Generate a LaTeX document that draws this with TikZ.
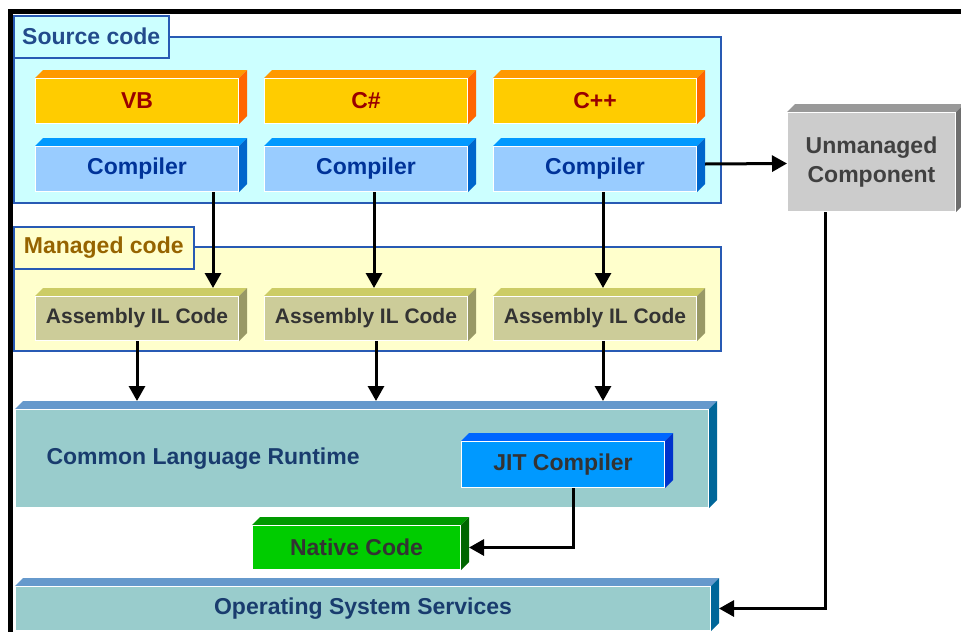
\documentclass[tikz,border=0pt]{standalone}
\usepackage{fontspec}
\setmainfont{Liberation Sans}
\usetikzlibrary{positioning, arrows.meta}
\definecolor{panelcol}{RGB}{40,90,180}
\definecolor{srcfill}{RGB}{204,255,255}
\definecolor{srctext}{RGB}{35,75,140}
\definecolor{mgdfill}{RGB}{255,255,204}
\definecolor{mgdtext}{RGB}{150,100,0}
\definecolor{langfill}{RGB}{255,204,0}
\definecolor{langtop}{RGB}{255,153,0}
\definecolor{langside}{RGB}{255,102,0}
\definecolor{langtext}{RGB}{153,0,0}
\definecolor{compfill}{RGB}{153,204,255}
\definecolor{comptop}{RGB}{0,153,255}
\definecolor{compside}{RGB}{0,102,204}
\definecolor{comptext}{RGB}{0,51,153}
\definecolor{unmfill}{RGB}{204,204,204}
\definecolor{unmtop}{RGB}{153,153,153}
\definecolor{unmside}{RGB}{110,110,110}
\definecolor{asmfill}{RGB}{204,204,153}
\definecolor{asmtop}{RGB}{204,204,102}
\definecolor{asmside}{RGB}{153,153,102}
\definecolor{clrfill}{RGB}{153,204,204}
\definecolor{clrtop}{RGB}{102,153,204}
\definecolor{clrside}{RGB}{0,102,153}
\definecolor{clrtext}{RGB}{25,60,110}
\definecolor{jitfill}{RGB}{0,153,255}
\definecolor{jittop}{RGB}{0,102,255}
\definecolor{jitside}{RGB}{0,51,204}
\definecolor{natfill}{RGB}{0,204,0}
\definecolor{nattop}{RGB}{0,153,0}
\definecolor{natside}{RGB}{0,102,0}
\definecolor{darktext}{RGB}{51,51,51}
\definecolor{unmtext}{RGB}{64,64,64}

\begin{document}
\begin{tikzpicture}[
			x=1pt, y=1pt,
			font=\fontsize{23}{26}\selectfont\bfseries,
			panel/.style={
				draw=panelcol,
				line width=1.5pt,
				anchor=north west,
				inner sep=0pt
			},
			tab/.style={
				panel,
				minimum height=42pt
			},
			box3d/.style 2 args={
				draw=white,
				line width=1pt,
				anchor=north west,
				inner sep=0pt,
				minimum width=203pt,
				minimum height=45pt,
				append after command={
					\pgfextra{
						\fill[#1] (\tikzlastnode.north west) -- ++(8,8)
							-- ([shift={(8,8)}]\tikzlastnode.north east)
							-- (\tikzlastnode.north east) -- cycle;
						\fill[#2] (\tikzlastnode.north east) -- ++(8,8)
							-- ([shift={(8,8)}]\tikzlastnode.south east)
							-- (\tikzlastnode.south east) -- cycle;
					}
				}
			},
			lang/.style={box3d={langtop}{langside}, fill=langfill, text=langtext},
			comp/.style={box3d={comptop}{compside}, fill=compfill, text=comptext},
			asm/.style={box3d={asmtop}{asmside}, fill=asmfill, text=darktext, minimum height=44pt,
				font=\fontsize{21}{24}\selectfont\bfseries},
			layer/.style={box3d={clrtop}{clrside}, fill=clrfill, text=clrtext},
			flow/.style={
				-{Triangle[length=15pt,width=16pt]},
				line width=3pt
			}
			]
			\useasboundingbox (0,0) rectangle (961,-632);
			\draw[line width=4.5pt] (961,-11.5) -- (10.5,-11.5) -- (10.5,-632);
			
			% Source code
			\node[panel, fill=srcfill, minimum width=707pt, minimum height=166pt] (srcpanel) at (13,-36) {};
			\node[tab, fill=srcfill, text=srctext, minimum width=155pt] (srctab) at (13,-15) {Source code};
			\node[lang] (vb) at (35,-78) {VB};
			\node[lang, right=25pt of vb] (cs) {C\#};
			\node[lang, right=25pt of cs] (cpp) {C++};
			\node[comp, below=22pt of vb] (cvb) {Compiler};
			\node[comp, below=22pt of cs] (ccs) {Compiler};
			\node[comp, below=22pt of cpp] (ccpp) {Compiler};
			
			% Unmanaged
			\node[box3d={unmtop}{unmside}, fill=unmfill, text=unmtext, align=center,
				minimum width=168pt, minimum height=99pt,
				font=\fontsize{23}{29}\selectfont\bfseries] (unman) at (787,-112) {Unmanaged\\Component};
			
			% Managed code
			\node[panel, fill=mgdfill, minimum width=707pt, minimum height=104pt] (mgdpanel) at (13,-246) {};
			\node[tab, fill=mgdfill, text=mgdtext, minimum width=180pt] (mgdtab) at (13,-226) {Managed code};
			\node[asm, below=104pt of cvb] (avb) {Assembly IL Code};
			\node[asm, below=104pt of ccs] (acs) {Assembly IL Code};
			\node[asm, below=104pt of ccpp] (acpp) {Assembly IL Code};
			
			% Runtime
			\node[layer, minimum width=693pt, minimum height=98pt] (clr) at (15,-409) {};
			\node[text=clrtext, anchor=west] (clrlabel) at ([xshift=28pt]clr.west) {Common Language Runtime};
			\node[box3d={jittop}{jitside}, fill=jitfill, text=darktext, minimum height=46pt] (jit) at (461,-441) {JIT Compiler};
			\node[box3d={nattop}{natside}, fill=natfill, text=darktext, minimum width=208pt, minimum height=44pt] (native) at (252,-525) {Native Code};
			\node[layer, minimum width=695pt, minimum height=44pt] (os) at (15,-586) {Operating System Services};
			
			% Flows
			\draw[flow] ([xshift=76pt]cvb.south) -- ([xshift=76pt,yshift=8pt]avb.north);
			\draw[flow] ([xshift=8pt]ccs.south) -- ([xshift=8pt,yshift=8pt]acs.north);
			\draw[flow] ([xshift=8pt]ccpp.south) -- ([xshift=8pt,yshift=8pt]acpp.north);
			\draw[flow] (avb.south) -- ([yshift=8pt]avb.south |- clr.north);
			\draw[flow] ([xshift=10pt]acs.south) -- ([xshift=10pt,yshift=8pt]acs.south |- clr.north);
			\draw[flow] ([xshift=8pt]acpp.south) -- ([xshift=8pt,yshift=8pt]acpp.south |- clr.north);
			\draw[flow] ([xshift=8pt,yshift=5pt]ccpp.east) -- ([yshift=-1.5pt]unman.west);
			\draw[flow] ([xshift=10pt]jit.south) |- ([xshift=8pt]native.east);
			\draw[flow] ([xshift=-46pt]unman.south) |- ([xshift=8pt]os.east);
		\end{tikzpicture}
\end{document}
